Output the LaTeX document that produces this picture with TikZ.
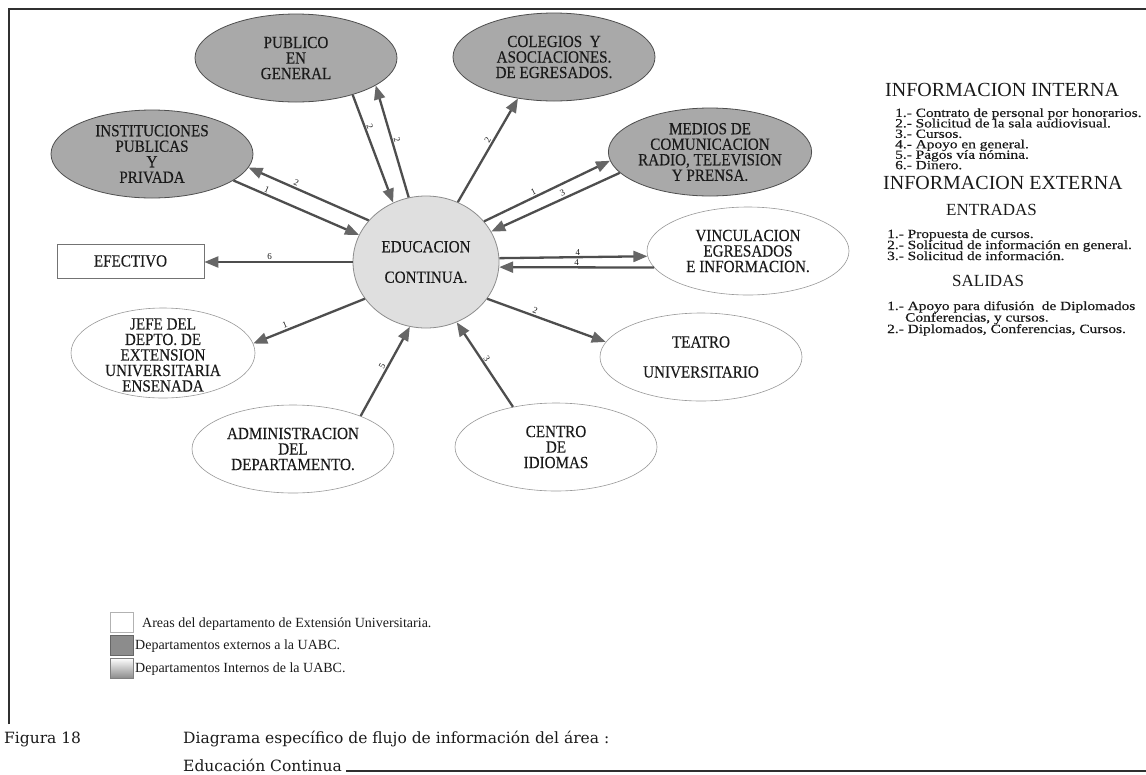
\documentclass[tikz,border=0pt]{standalone}
\usepackage{fontspec}
\setmainfont{Liberation Serif}
\newfontfamily\nodefont[FakeStretch=0.89,FakeBold=0.25]{Liberation Serif}
\newfontfamily\listfont[FakeStretch=1.23,FakeBold=0.4]{Liberation Serif}
\newfontfamily\capfont{DejaVu Serif}
\usetikzlibrary{shapes.geometric,arrows.meta}

\definecolor{extfill}{HTML}{A9A9A9}
\definecolor{corefill}{HTML}{DFDFDF}
\definecolor{flowline}{HTML}{4E4E4E}
\definecolor{headfill}{HTML}{666666}
\definecolor{inkdark}{HTML}{1A1A1A}
\definecolor{legdark}{HTML}{8C8C8C}
\definecolor{frameline}{HTML}{303030}

\tikzset{
  bubble/.style={ellipse, inner sep=0pt, minimum width=202pt, minimum height=88pt,
    align=center, text=inkdark, font=\nodefont\fontsize{17}{15.5}\selectfont},
  ext/.style={bubble, draw=flowline, line width=0.8pt, fill=extfill},
  area/.style={bubble, draw=black!40, line width=0.6pt, fill=white},
  core/.style={bubble, draw=black!45, line width=0.8pt, fill=corefill,
    minimum width=146pt, minimum height=132pt},
  cashbox/.style={rectangle, draw=black!55, line width=0.7pt, fill=white,
    minimum width=147pt, minimum height=34pt, inner sep=0pt, text=inkdark,
    font=\nodefont\fontsize{17}{15.5}\selectfont},
  flow/.style={draw=flowline, line width=2.3pt,
    -{Triangle[length=14pt,width=11pt,color=headfill]}},
  num/.style={font=\fontsize{9}{9}\selectfont, text=inkdark, inner sep=1pt, sloped, above},
  head/.style={anchor=base west, inner sep=0pt, text=inkdark, font=\fontsize{20}{20}\selectfont},
  subhead/.style={anchor=base west, inner sep=0pt, text=inkdark, font=\fontsize{17}{17}\selectfont},
  itm/.style={anchor=base west, inner sep=0pt, text=inkdark, font=\listfont\fontsize{12.5}{12.5}\selectfont},
  legsq/.style={rectangle, minimum width=23pt, minimum height=20pt, inner sep=0pt},
  legtxt/.style={anchor=base west, inner sep=0pt, text=inkdark, font=\fontsize{14}{14}\selectfont},
  captxt/.style={anchor=base west, inner sep=0pt, text=inkdark, font=\capfont\fontsize{15.5}{15.5}\selectfont},
}

\begin{document}
\begin{tikzpicture}[x=1pt,y=-1pt]
\useasboundingbox (0,0) rectangle (1146,774);
\fill[white] (0,0) rectangle (1146,774);

% page frame
\draw[frameline, line width=2pt] (9,724) -- (9,9) -- (1146,9);
\draw[frameline, line width=2pt] (346,771) -- (1146,771);

% nodes of the flow diagram
\node[ext] (pub) at (296,58) {PUBLICO\\EN\\GENERAL};
\node[ext] (inst) at (152,154) {INSTITUCIONES\\PUBLICAS\\Y\\PRIVADA};
\node[ext] (col) at (554,57) {COLEGIOS\ \ Y\\ASOCIACIONES.\\DE EGRESADOS.};
\node[ext] (med) at (710,152) {MEDIOS DE\\COMUNICACION\\RADIO, TELEVISION\\Y PRENSA.};
\node[area] (vinc) at (748,251) {VINCULACION\\EGRESADOS\\E INFORMACION.};
\node[core] (edu) at (426,262) {EDUCACION\\[15pt]CONTINUA.};
\node[cashbox] (efe) at (130.5,261) {EFECTIVO};
\node[area, minimum width=184pt, minimum height=90pt] (jefe) at (163,353) {};
\node[align=center, inner sep=0pt, text=inkdark, font=\nodefont\fontsize{17}{15.5}\selectfont]
  (jefetxt) at (163,355) {JEFE DEL\\DEPTO. DE\\EXTENSION\\UNIVERSITARIA\\ENSENADA};
\node[area] (adm) at (293,449) {ADMINISTRACION\\DEL\\DEPARTAMENTO.};
\node[area] (tea) at (701,357) {TEATRO\\[14.5pt]UNIVERSITARIO};
\node[area] (cen) at (556,447) {CENTRO\\DE\\IDIOMAS};

% information flows
\draw[flow] (pub.-33) -- node[num, pos=.31] {2} (edu.119.5);
\draw[flow] (edu.105.5) -- node[num, pos=.50] {2} (pub.-19.3);
\draw[flow] (inst.-18.6) -- node[num, pos=.25] {1} (edu.158.6);
\draw[flow] (edu.144.6) -- node[num, pos=.62] {2} (inst.-8.1);
\draw[flow] (edu.62.7) -- node[num, pos=.57] {2} (col.229.3);
\draw[flow] (edu.35.4) -- node[num, pos=.41] {1} (med.185.9);
\draw[flow] (med.193.6) -- node[num, pos=.43] {3} (edu.25.5);
\draw[flow] (edu.3.9) -- node[num, pos=.53] {4} (vinc.183.5);
\draw[flow] (vinc.190.4) -- node[num, pos=.50] {4} (edu.-4.7);
\draw[flow] (edu.west) -- node[num, pos=.56] {6} (edu.west -| efe.east);
\draw[flow] (edu.211.1) -- node[num, pos=.70] {1} (jefe.6.4);
\draw[flow] (edu.-31.2) -- node[num, pos=.39] {2} (tea.171.5);
\draw[flow] (cen.137.1) -- node[num, pos=.54] {3} (edu.-63.1);
\draw[flow] (adm.26.2) -- node[num, pos=.53] {5} (edu.256.4);

% key to the flow numbers
\node[head] (hint) at (885,96.5) {INFORMACION INTERNA};
\foreach \t [count=\i] in {Contrato de personal por honorarios., Solicitud de la sala audiovisual.,
    Cursos., Apoyo en general., Pagos vía nómina., Dinero.}
  \node[itm] (int\i) at (895,106.5+10.45*\i) {\i.- \t};
\node[head] (hext) at (883,189.5) {INFORMACION EXTERNA};
\node[subhead] (hin) at (946,215.6) {ENTRADAS};
\foreach \t [count=\i] in {Propuesta de cursos., Solicitud de información en general.,
    Solicitud de información.}
  \node[itm] (ent\i) at (887,227+11*\i) {\i.- \t};
\node[subhead] (hout) at (952,286.6) {SALIDAS};
\node[itm] (sal1) at (887,310) {1.- Apoyo para difusión\ \ de Diplomados};
\node[itm] (sal1b) at (905,321.5) {Conferencias, y cursos.};
\node[itm] (sal2) at (887,333) {2.- Diplomados, Conferencias, Cursos.};

% legend
\node[legsq, fill=white, draw=black!30, line width=0.5pt] (lg1) at (121.5,622.5) {};
\node[legsq, fill=legdark, draw=black!60, line width=0.6pt] (lg2) at (121.5,645) {};
\node[legsq, top color=white, bottom color=black!45, draw=black!50, line width=0.6pt] (lg3) at (121.5,668) {};
\node[legtxt] (lt1) at (142,627.5) {Areas del departamento de Extensión Universitaria.};
\node[legtxt] (lt2) at (135,649.5) {Departamentos externos a la UABC.};
\node[legtxt] (lt3) at (135,672.5) {Departamentos Internos de la UABC.};

% figure caption
\node[captxt] (fig) at (4,743) {Figura 18};
\node[captxt] (cap1) at (183,743) {Diagrama específico de flujo de información del área :};
\node[captxt] (cap2) at (183,771) {Educación Continua};
\end{tikzpicture}
\end{document}
